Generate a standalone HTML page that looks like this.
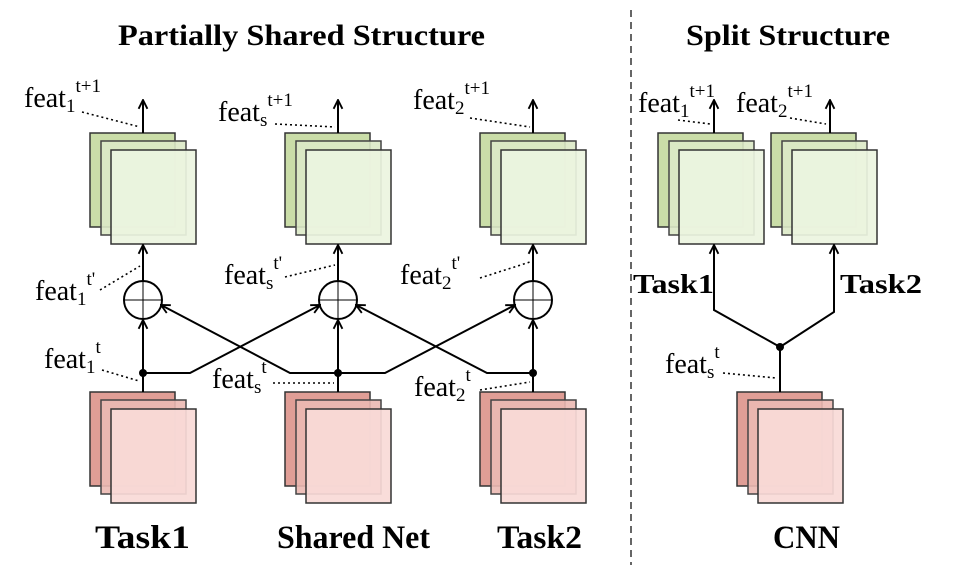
<!DOCTYPE html>
<html><head><style>
html,body{margin:0;padding:0;background:#fff;}
svg{display:block;font-family:"Liberation Serif",serif;}
</style></head><body>
<svg width="961" height="578" viewBox="0 0 961 578" xmlns="http://www.w3.org/2000/svg">
<defs>
<marker id="ah" viewBox="0 0 10 10" refX="9" refY="5" markerWidth="11" markerHeight="11" markerUnits="userSpaceOnUse" orient="auto">
<path d="M1,1 L9,5 L1,9" fill="none" stroke="#000" stroke-width="1.7"/>
</marker>
<g id="gs">
<rect x="0" y="0" width="85" height="94" fill="#cadda8" stroke="#333" stroke-width="1.5"/>
<rect x="11" y="8" width="85" height="94" fill="#dce9c6" fill-opacity="0.9" stroke="#444" stroke-width="1.5"/>
<rect x="21" y="17" width="85" height="94" fill="#ecf4df" fill-opacity="0.92" stroke="#333" stroke-width="1.5"/>
</g>
<g id="rs">
<rect x="0" y="0" width="85" height="94" fill="#e09e96" stroke="#333" stroke-width="1.5"/>
<rect x="11" y="8" width="85" height="94" fill="#ebb9b3" fill-opacity="0.9" stroke="#444" stroke-width="1.5"/>
<rect x="21" y="17" width="85" height="94" fill="#f8dad7" fill-opacity="0.92" stroke="#333" stroke-width="1.5"/>
</g>
</defs>
<text x="118" y="45" font-size="30" font-weight="bold" textLength="367" lengthAdjust="spacingAndGlyphs">Partially Shared Structure</text>
<text x="686" y="45" font-size="30" font-weight="bold" textLength="204" lengthAdjust="spacingAndGlyphs">Split Structure</text>
<line x1="631" y1="10" x2="631" y2="565" stroke="#000" stroke-width="1.2" stroke-dasharray="7,5"/>

<use href="#gs" x="90" y="133"/><use href="#gs" x="285" y="133"/><use href="#gs" x="480" y="133"/>
<use href="#rs" x="90" y="392"/><use href="#rs" x="285" y="392"/><use href="#rs" x="480" y="392"/>
<use href="#gs" x="658" y="133"/><use href="#gs" x="771" y="133"/>
<use href="#rs" x="737" y="392"/>

<g stroke="#000" stroke-width="2" fill="none">
<line x1="143" y1="133" x2="143" y2="100" marker-end="url(#ah)"/>
<line x1="338" y1="133" x2="338" y2="100" marker-end="url(#ah)"/>
<line x1="533" y1="133" x2="533" y2="100" marker-end="url(#ah)"/>
<line x1="714" y1="133" x2="714" y2="100" marker-end="url(#ah)"/>
<line x1="830" y1="133" x2="830" y2="100" marker-end="url(#ah)"/>
<line x1="143" y1="281" x2="143" y2="245" marker-end="url(#ah)"/>
<line x1="338" y1="281" x2="338" y2="245" marker-end="url(#ah)"/>
<line x1="533" y1="281" x2="533" y2="245" marker-end="url(#ah)"/>
<circle cx="143" cy="300" r="19"/><circle cx="338" cy="300" r="19"/><circle cx="533" cy="300" r="19"/>
<line x1="143" y1="392" x2="143" y2="320" marker-end="url(#ah)"/>
<line x1="338" y1="392" x2="338" y2="320" marker-end="url(#ah)"/>
<line x1="533" y1="392" x2="533" y2="320" marker-end="url(#ah)"/>
<polyline points="143,373 190,373 320,305" marker-end="url(#ah)"/>
<polyline points="338,373 290,373 161,305" marker-end="url(#ah)"/>
<polyline points="338,373 385,373 515,305" marker-end="url(#ah)"/>
<polyline points="533,373 487,373 356,305" marker-end="url(#ah)"/>
<line x1="780" y1="392" x2="780" y2="347"/>
<polyline points="780,347 714,310 714,245" marker-end="url(#ah)"/>
<polyline points="780,347 834,312 834,245" marker-end="url(#ah)"/>
</g>
<g stroke="#000" stroke-width="1">
<line x1="124" y1="300" x2="162" y2="300"/><line x1="143" y1="281" x2="143" y2="319"/>
<line x1="319" y1="300" x2="357" y2="300"/><line x1="338" y1="281" x2="338" y2="319"/>
<line x1="514" y1="300" x2="552" y2="300"/><line x1="533" y1="281" x2="533" y2="319"/>
</g>
<g fill="#000"><circle cx="143" cy="373" r="4"/><circle cx="338" cy="373" r="4"/><circle cx="533" cy="373" r="4"/><circle cx="780" cy="347" r="4"/></g>

<g stroke="#000" stroke-width="1.6" stroke-dasharray="2,3" fill="none">
<line x1="82" y1="112" x2="140" y2="127"/>
<line x1="275" y1="124" x2="335" y2="127"/>
<line x1="470" y1="118" x2="530" y2="127"/>
<line x1="678" y1="120" x2="710" y2="124"/>
<line x1="790" y1="118" x2="826" y2="124"/>
<line x1="100" y1="290" x2="140" y2="266"/>
<line x1="285" y1="277" x2="335" y2="265"/>
<line x1="480" y1="278" x2="530" y2="262"/>
<line x1="102" y1="370" x2="139" y2="381"/>
<line x1="273" y1="383" x2="334" y2="383"/>
<line x1="480" y1="390" x2="530" y2="382"/>
<line x1="723" y1="373" x2="776" y2="378"/>
</g>

<g font-size="28" fill="#000">
<text x="24" y="107">feat<tspan font-size="19" dy="5">1</tspan><tspan font-size="19" dy="-20">t+1</tspan></text>
<text x="218" y="121">feat<tspan font-size="19" dy="5">s</tspan><tspan font-size="19" dy="-20">t+1</tspan></text>
<text x="413" y="109">feat<tspan font-size="19" dy="5">2</tspan><tspan font-size="19" dy="-20">t+1</tspan></text>
<text x="638" y="112">feat<tspan font-size="19" dy="5">1</tspan><tspan font-size="19" dy="-20">t+1</tspan></text>
<text x="736" y="112">feat<tspan font-size="19" dy="5">2</tspan><tspan font-size="19" dy="-20">t+1</tspan></text>
<text x="35" y="300">feat<tspan font-size="19" dy="5">1</tspan><tspan font-size="19" dy="-20">t'</tspan></text>
<text x="224" y="284">feat<tspan font-size="19" dy="5">s</tspan><tspan font-size="19" dy="-20">t'</tspan></text>
<text x="400" y="284">feat<tspan font-size="19" dy="5">2</tspan><tspan font-size="19" dy="-20">t'</tspan></text>
<text x="44" y="368">feat<tspan font-size="19" dy="5">1</tspan><tspan font-size="19" dy="-20">t</tspan></text>
<text x="212" y="388">feat<tspan font-size="19" dy="5">s</tspan><tspan font-size="19" dy="-20">t</tspan></text>
<text x="414" y="396">feat<tspan font-size="19" dy="5">2</tspan><tspan font-size="19" dy="-20">t</tspan></text>
<text x="665" y="373">feat<tspan font-size="19" dy="5">s</tspan><tspan font-size="19" dy="-20">t</tspan></text>
</g>
<g font-size="33" font-weight="bold">
<text x="95" y="548" textLength="95" lengthAdjust="spacingAndGlyphs">Task1</text>
<text x="277" y="548" textLength="153" lengthAdjust="spacingAndGlyphs">Shared Net</text>
<text x="497" y="548" textLength="85" lengthAdjust="spacingAndGlyphs">Task2</text>
<text x="773" y="548" textLength="67" lengthAdjust="spacingAndGlyphs">CNN</text>
<text x="633" y="293" font-size="27" textLength="81" lengthAdjust="spacingAndGlyphs">Task1</text>
<text x="840" y="293" font-size="27" textLength="82" lengthAdjust="spacingAndGlyphs">Task2</text>
</g>
</svg>
</body></html>
